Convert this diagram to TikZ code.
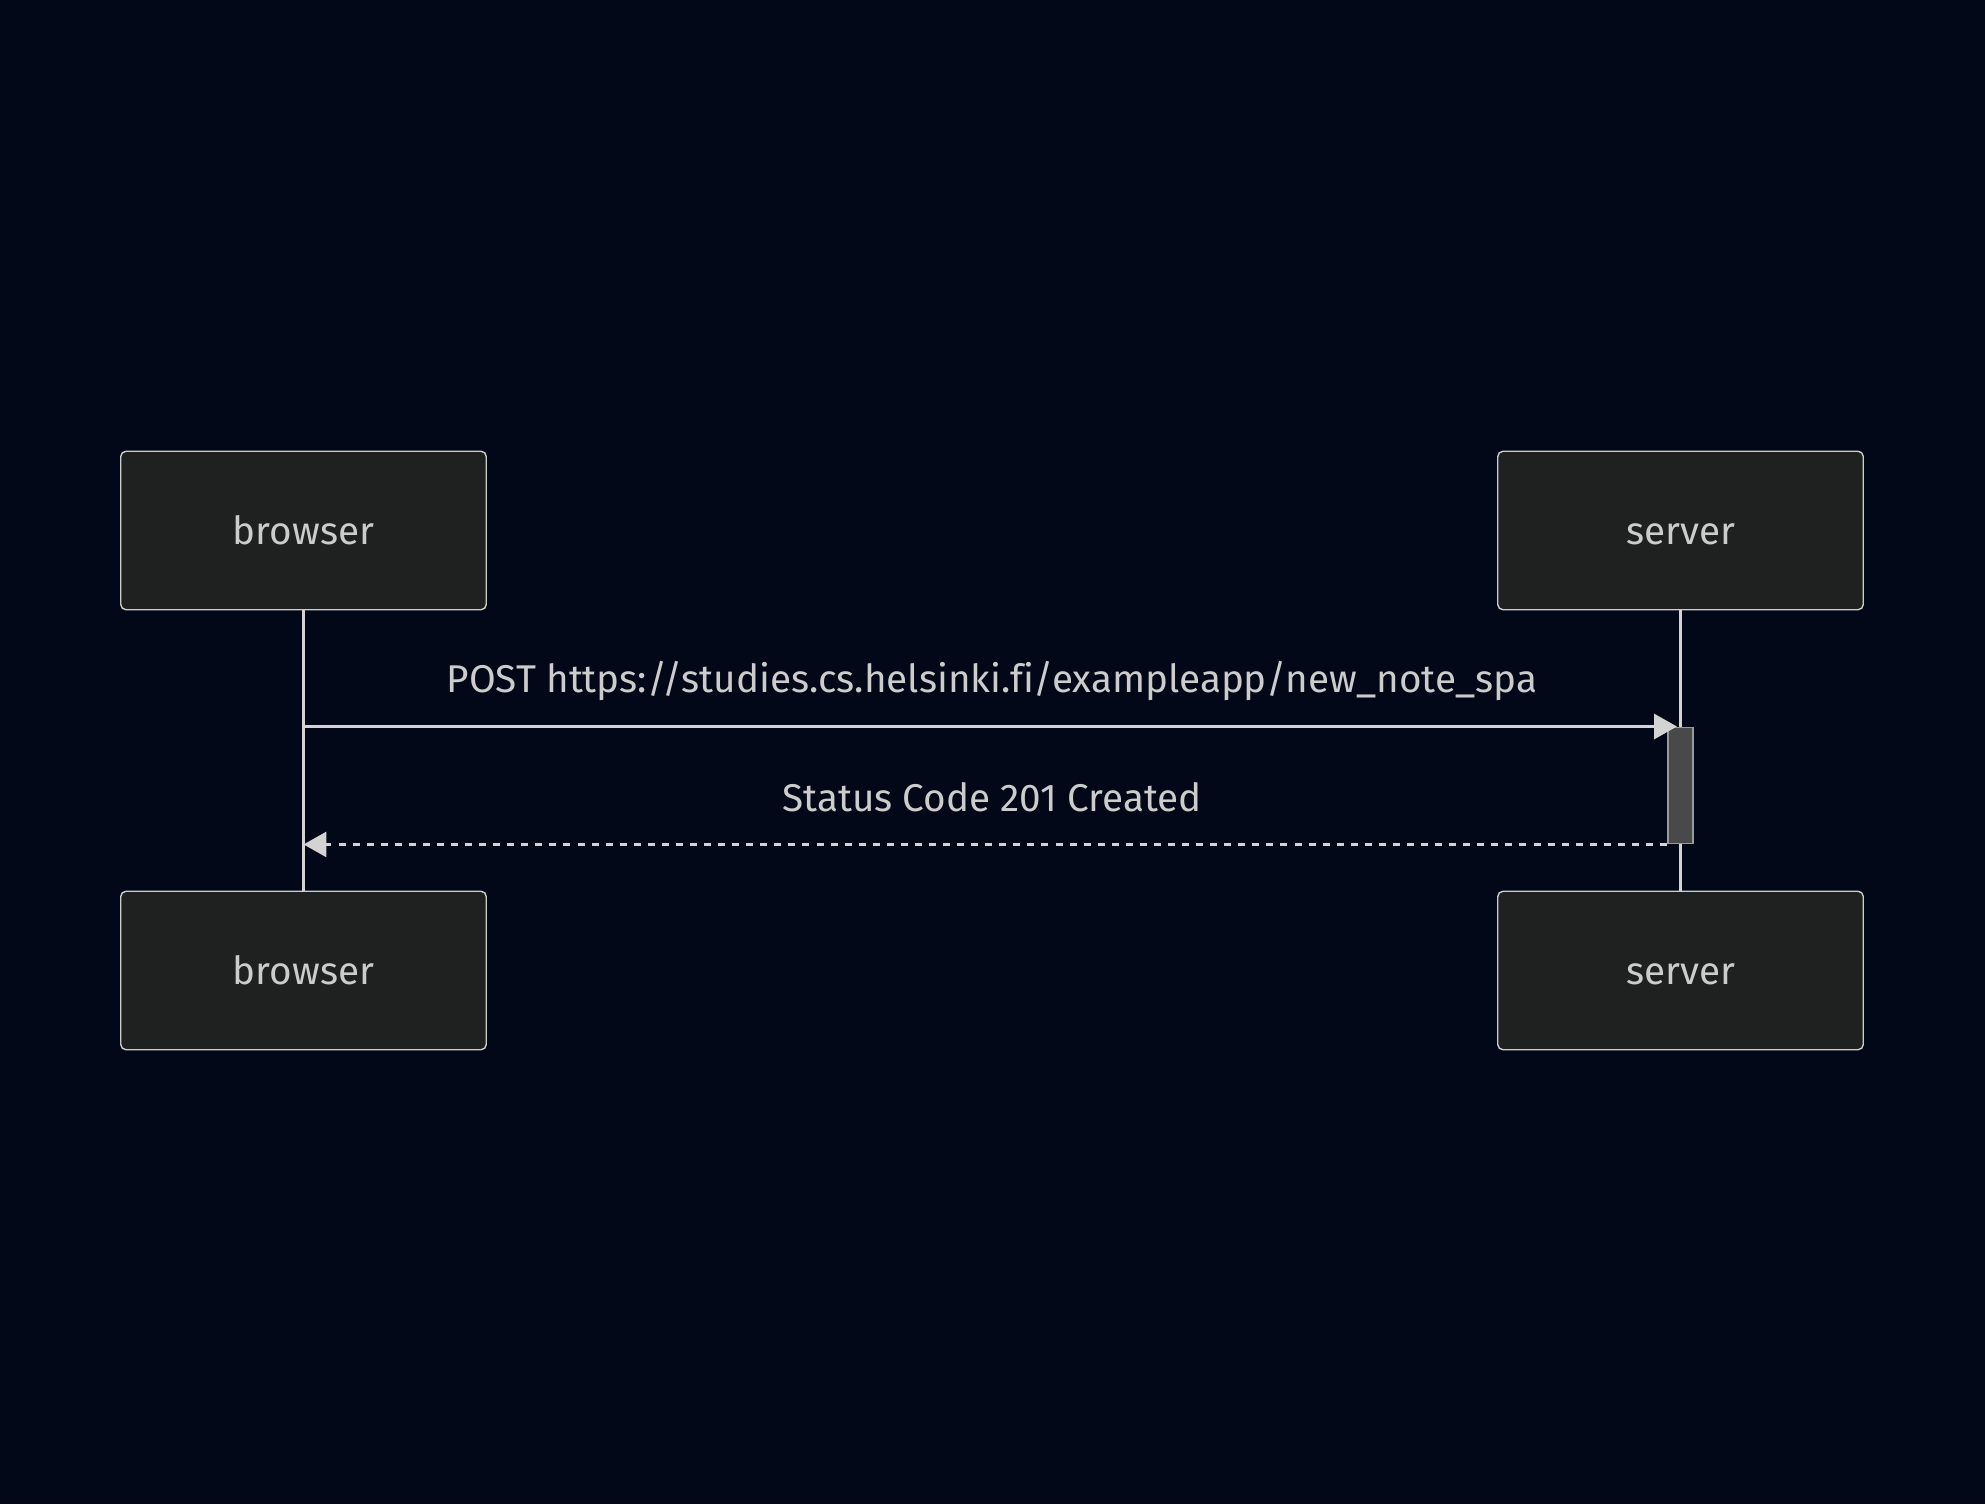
\documentclass[tikz,border=0pt]{standalone}
\usepackage{fontspec}
\setmainfont{Fira Sans}[Ligatures=NoCommon]
\usetikzlibrary{arrows.meta,positioning,calc}
\definecolor{bgnavy}{HTML}{020817}
\definecolor{actorfill}{HTML}{1F2020}
\definecolor{edgegrey}{HTML}{CCCCCC}
\definecolor{linegrey}{HTML}{D3D3D3}
\definecolor{activfill}{HTML}{494949}
\definecolor{activdraw}{HTML}{9A9A9A}
\tikzset{
  actor/.style={rounded corners=3pt, draw=edgegrey, line width=0.8pt,
                fill=actorfill, text=edgegrey, minimum width=7.31cm,
                minimum height=3.17cm, inner sep=0pt,
                text height=16.3pt, text depth=0pt,
                font=\fontsize{22}{26}\selectfont},
  life/.style={draw=linegrey, line width=2.2pt},
  activ/.style={draw=activdraw, line width=1.1pt, fill=activfill,
                minimum width=0.5cm, minimum height=2.32cm, inner sep=0pt},
  msg/.style={-{Triangle[length=13pt,width=14pt]}, draw=linegrey,
              line width=2.2pt, color=linegrey},
  reply/.style={msg, dash pattern=on 4pt off 4pt},
  lbl/.style={text=edgegrey, font=\fontsize{22}{26}\selectfont, inner sep=0pt},
}
\begin{document}
\begin{tikzpicture}
\fill[bgnavy] (0,0) rectangle (39.70,-30.08);
\useasboundingbox (0,0) rectangle (39.70,-30.08);

% ------------------------- actors ---------------------------------------
\node[actor] at (6.07,-10.61)  (browserTop) {browser};
\node[actor] at (33.61,-10.61) (serverTop)  {server};
\node[actor] at (6.07,-19.41)  (browserBot) {browser};
\node[actor] at (33.61,-19.41) (serverBot)  {server};

% ------------------------- lifelines ------------------------------------
\draw[life] (browserTop.south) -- (browserBot.north);
\draw[life] (serverTop.south)  -- (serverBot.north);

% ------------------------- activation -----------------------------------
\node[activ, anchor=north] at (33.61,-14.53) (act) {};
\coordinate (reqFrom)  at (browserTop.south|-act.north);
\coordinate (reqTo)    at ($(act.north)+(-0.07,0)$);
\coordinate (respTo)   at (browserTop.south|-act.south);

% ------------------------- messages -------------------------------------
\draw[msg]   (reqFrom) -- (reqTo);
\draw[reply] (act.south west) -- (respTo);
\node[lbl] at (19.84,-13.62) (postLbl)
   {POST https://studies.cs.helsinki.fi/exampleapp/new\_note\_spa};
\node[lbl] at (19.84,-15.95) (statusLbl) {Status Code 201 Created};
\end{tikzpicture}
\end{document}
